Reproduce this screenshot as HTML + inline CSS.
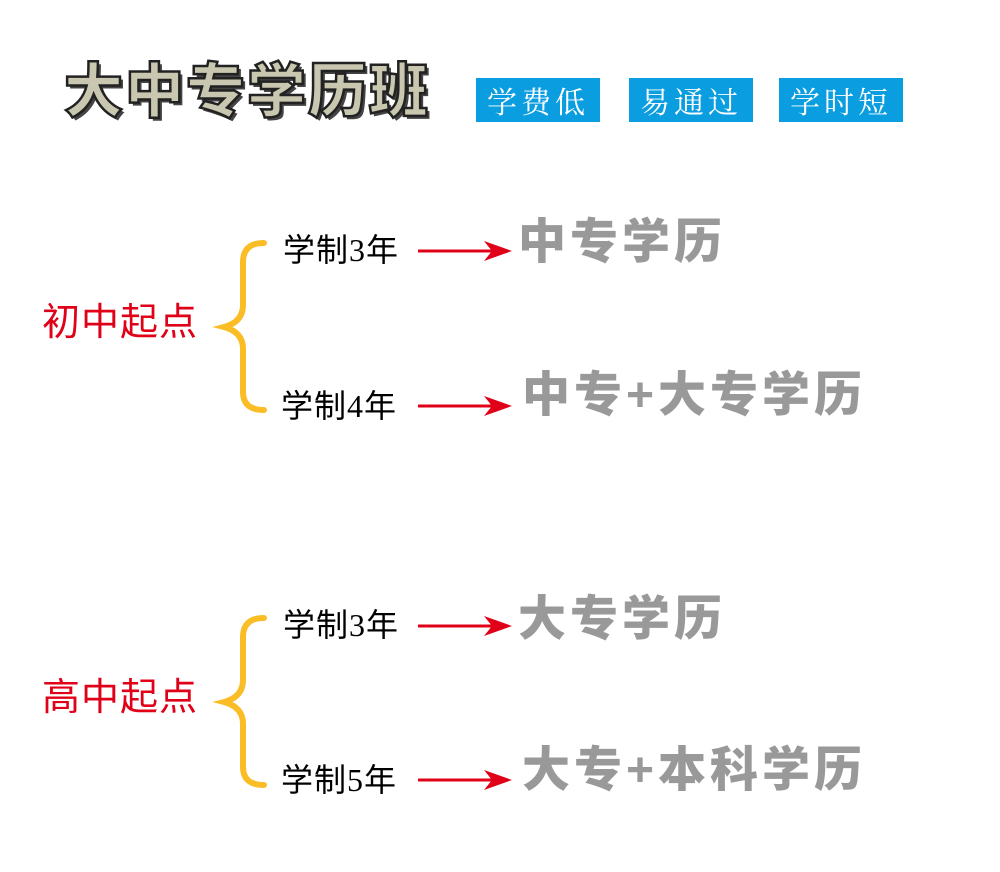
<!DOCTYPE html>
<html><head><meta charset="utf-8"><style>
body{margin:0;width:1000px;height:872px;background:#fff;position:relative;overflow:hidden;font-family:"Liberation Sans","Noto Sans CJK SC",sans-serif}
.a{position:absolute;white-space:nowrap;line-height:1}
.title{left:64px;top:63px;font-size:59px;font-weight:900;color:#c9c7b0;-webkit-text-stroke:2.5px #222;text-shadow:3px 3px 0 #444;letter-spacing:2px}
.tag{position:absolute;top:78px;height:44px;width:124px;background:#0a9de0;color:#fff;font-size:30px;line-height:44px;text-align:center;font-family:"Noto Serif CJK SC",serif;letter-spacing:4px}
.red{font-size:38px;color:#e00018;letter-spacing:1px}
.blk{font-size:32px;color:#000;font-family:"Liberation Serif","Noto Sans CJK SC",sans-serif;letter-spacing:1px}
.gray{font-size:48px;font-weight:900;color:#999;letter-spacing:4px}
</style></head><body>
<div class="a title">大中专学历班</div>
<div class="tag" style="left:476px">学费低</div>
<div class="tag" style="left:629px">易通过</div>
<div class="tag" style="left:779px">学时短</div>

<svg width="1000" height="872" style="position:absolute;left:0;top:0">
<g fill="none" stroke="#fbbd26" stroke-width="6" stroke-linecap="round">
<path d="M264 243 Q243 243 243 262 L243 305 Q243 322 224 327 Q243 332 243 349 L243 392 Q243 410 264 410"/>
<path d="M264 618 Q243 618 243 637 L243 680 Q243 697 224 702 Q243 707 243 724 L243 767 Q243 785 264 785"/>
</g>
<g stroke="#e00018" stroke-width="3">
<line x1="418" y1="251" x2="500" y2="251"/><line x1="418" y1="406" x2="500" y2="406"/>
<line x1="418" y1="626" x2="500" y2="626"/><line x1="418" y1="780" x2="500" y2="780"/>
</g>
<g fill="#e00018">
<path d="M512 251 L484 241 L492 251 L484 261Z"/><path d="M512 406 L484 396 L492 406 L484 416Z"/>
<path d="M512 626 L484 616 L492 626 L484 636Z"/><path d="M512 780 L484 770 L492 780 L484 790Z"/>
</g>
</svg>

<div class="a red" style="left:42px;top:304px">初中起点</div>
<div class="a red" style="left:42px;top:679px">高中起点</div>
<div class="a blk" style="left:283px;top:234px">学制3年</div>
<div class="a blk" style="left:281px;top:390px">学制4年</div>
<div class="a blk" style="left:283px;top:609px">学制3年</div>
<div class="a blk" style="left:281px;top:764px">学制5年</div>
<div class="a gray" style="left:518px;top:219px">中专学历</div>
<div class="a gray" style="left:522px;top:372px">中专+大专学历</div>
<div class="a gray" style="left:518px;top:596px">大专学历</div>
<div class="a gray" style="left:522px;top:747px">大专+本科学历</div>
</body></html>
